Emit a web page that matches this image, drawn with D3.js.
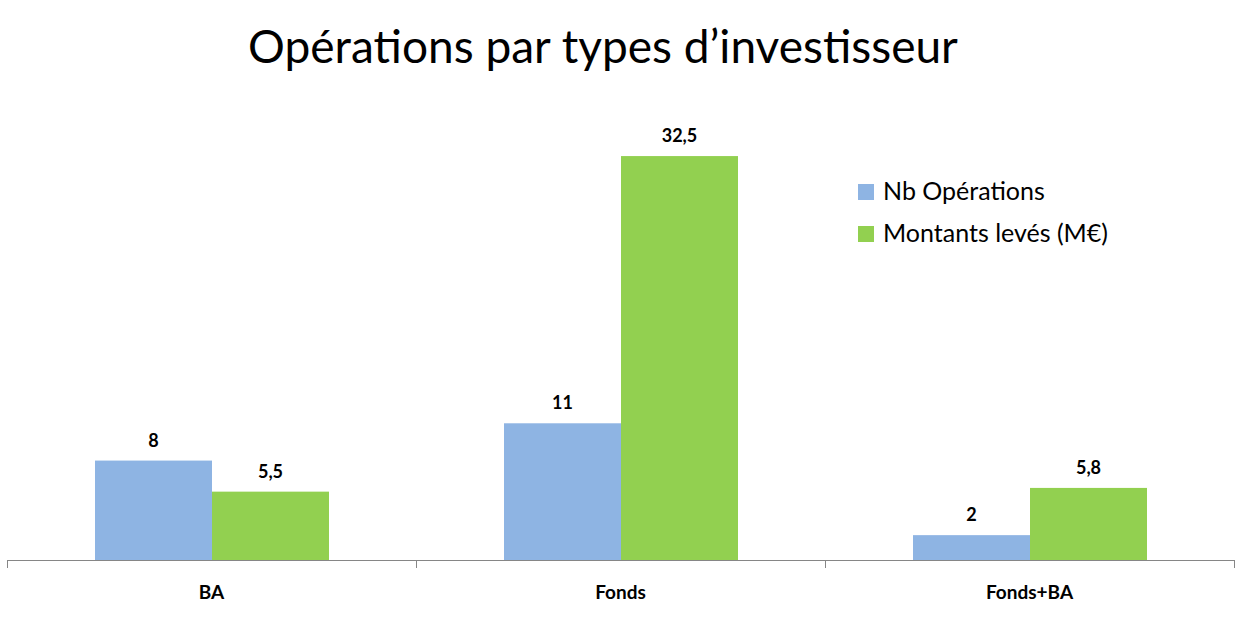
<!DOCTYPE html>
<html><head><meta charset="utf-8">
<script src="https://cdn.jsdelivr.net/npm/d3@7"></script>
<style>body{margin:0;background:#fff}svg{display:block}</style>
</head><body>
<svg id="c" width="1246" height="631"></svg>
<script>
const categories = ["BA", "Fonds", "Fonds+BA"];
const seriesNames = ["Nb Opérations", "Montants levés (M€)"];
const nbOperations = [8, 11, 2];
const montants = [5.5, 32.5, 5.8];
const valueLabels = [["8", "11", "2"], ["5,5", "32,5", "5,8"]];
const colors = ["#8EB4E3", "#92D050"];
const title = "Opérations par types d’investisseur";

const svg = d3.select("#c");
const font = "Lato, 'Open Sans', sans-serif";
const series = [nbOperations, montants];

const x = d3.scaleBand().domain(categories).range([7, 1234]).paddingInner(0).paddingOuter(0);
const x1 = d3.scaleBand().domain([0, 1]).range([88, x.bandwidth() - 87]);
const y = d3.scaleLinear().domain([0, 35]).range([560, 125]);

// title
const t = svg.append("text").attr("x", 603).attr("y", 63).attr("text-anchor", "middle")
  .attr("font-family", font).attr("font-size", 44).attr("fill", "#000").text(title);
const tw = t.node().getComputedTextLength();
t.attr("font-size", 44 * 710 / tw);

// bars
categories.forEach((c, i) => {
  series.forEach((s, j) => {
    svg.append("rect").attr("x", x(c) + x1(j)).attr("y", y(s[i]))
      .attr("width", x1.bandwidth()).attr("height", y(0) - y(s[i])).attr("fill", colors[j]);
    svg.append("text").attr("x", x(c) + x1(j) + x1.bandwidth() / 2).attr("y", y(s[i]) - 14)
      .attr("text-anchor", "middle").attr("font-family", font).attr("font-weight", "bold")
      .attr("font-size", 18).text(valueLabels[j][i]);
  });
});

// axis
svg.append("line").attr("x1", 7).attr("x2", 1234).attr("y1", 560.5).attr("y2", 560.5)
  .attr("stroke", "#868686").attr("stroke-width", 1);
const edges = categories.map(c => x(c)).concat([x.range()[1]]);
edges.forEach(e => svg.append("line").attr("x1", e + 0.5).attr("x2", e + 0.5)
  .attr("y1", 560).attr("y2", 568).attr("stroke", "#868686"));
categories.forEach(c => svg.append("text").attr("x", x(c) + x.bandwidth() / 2).attr("y", 599)
  .attr("text-anchor", "middle").attr("font-family", font).attr("font-weight", "bold")
  .attr("font-size", 19).text(c));

// legend
const legTexts = [];
seriesNames.forEach((n, j) => {
  const yy = 184 + j * 42;
  svg.append("rect").attr("x", 858).attr("y", yy).attr("width", 16).attr("height", 16).attr("fill", colors[j]);
  legTexts.push(svg.append("text").attr("x", 883).attr("y", yy + 16).attr("font-family", font)
    .attr("font-size", 21).text(n));
});
const lw = legTexts[1].node().getComputedTextLength();
const lfs = Math.min(25, 21 * 244 / lw);
legTexts.forEach(tx => tx.attr("font-size", lfs));
</script>
</body></html>
